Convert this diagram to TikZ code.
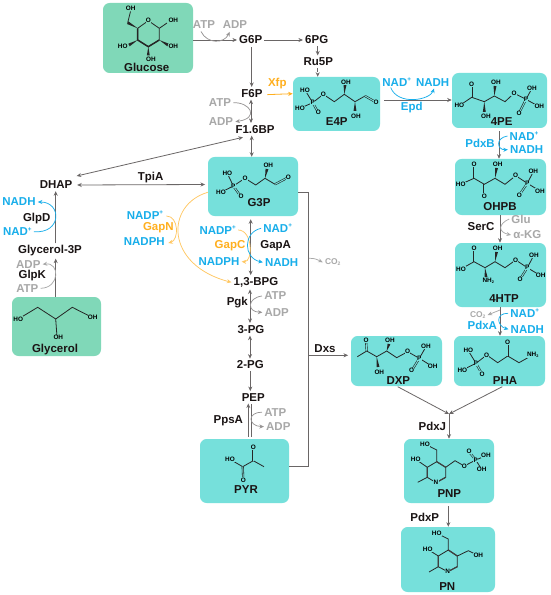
\documentclass[tikz,border=0pt]{standalone}
\usepackage{fontspec}
\setmainfont{Liberation Sans}
\usetikzlibrary{calc,arrows.meta}
\definecolor{tealb}{HTML}{76E0DB}
\definecolor{greenb}{HTML}{80D8B8}
\definecolor{cblue}{HTML}{18AEEA}
\definecolor{corange}{HTML}{FFAF1E}
\definecolor{cgray}{HTML}{A8A8A8}
\definecolor{cline}{HTML}{6A6666}
\definecolor{ctext}{HTML}{1A1414}
\colorlet{bgc}{tealb}
\newcounter{an}
\newcommand\atm[2]{\stepcounter{an}\node[atom] (a\thean) at (#1) {#2};}
\newcommand\wdg[2]{\fill[black!85] (#1) -- ($(#2)!1.1pt!90:(#1)$) -- ($(#2)!1.1pt!-90:(#1)$) -- cycle;}
\newcommand\dbl[2]{\draw[bond,double=bgc,double distance=0.7pt,line width=0.45pt] (#1) -- (#2);}
\newcommand\pl{\raisebox{0.38em}{\scalebox{0.55}{+}}}
\newcommand\cotwo{CO\raisebox{-0.15em}{\scalebox{0.6}{2}}}
\tikzset{
 box/.style 2 args={fill=#1,rounded corners=5pt,minimum width=#2*0.75pt,inner sep=0pt},
 lab/.style={font=\fontsize{8.6}{10}\selectfont\bfseries,text=ctext,inner sep=1.5pt},
 blab/.style={lab,text=cblue},
 olab/.style={lab,text=corange},
 glab/.style={lab,text=cgray},
 atom/.style={font=\fontsize{4.8}{5}\selectfont\bfseries,text=black,inner sep=0.2pt,fill=bgc},
 bond/.style={draw=black!85,line width=0.6pt},
 tip/.style={-{Stealth[length=3.4pt,width=3pt]}},
 btip/.style={{Stealth[length=3.4pt,width=3pt]}-{Stealth[length=3.4pt,width=3pt]}},
 arr/.style={draw=cline,line width=0.6pt,tip},
 barr/.style={draw=cline,line width=0.6pt,btip},
 cur/.style={line width=0.55pt,tip},
}
\begin{document}
\begin{tikzpicture}[x=0.75pt,y=-0.75pt]
\useasboundingbox (0,0) rectangle (550,595);
\fill[white] (0,0) rectangle (550,595);

% boxes
\node[box={greenb}{90},minimum height=52.5pt] (Glucose) at (148,38) {};
\node[box={greenb}{89},minimum height=44.25pt] (Glycerol) at (56.5,326.5) {};
\node[box={tealb}{87},minimum height=40.5pt] (E4P) at (336.5,104) {};
\node[box={tealb}{95},minimum height=41.25pt] (PE4) at (499.5,100.5) {};
\node[box={tealb}{91},minimum height=42pt] (OHPB) at (500.5,187) {};
\node[box={tealb}{91},minimum height=48pt] (HTP) at (500.5,275) {};
\node[box={tealb}{91},minimum height=37.5pt] (PHA) at (499.5,361) {};
\node[box={tealb}{91},minimum height=37.5pt] (DXP) at (396.5,361) {};
\node[box={tealb}{90},minimum height=48pt] (PNP) at (449,471) {};
\node[box={tealb}{94},minimum height=48.75pt] (PN) at (448,559.5) {};
\node[box={tealb}{90},minimum height=44.25pt] (G3P) at (253,186.5) {};
\node[box={tealb}{89},minimum height=48pt] (PYR) at (244.5,471) {};

% metabolite labels
\node[lab] (lGlucose) at (146.7,67.3) {Glucose};
\node[lab] (G6P) at (250.7,40) {G6P};
\node[lab] (PG6) at (316.7,40) {6PG};
\node[lab] (Ru5P) at (318.3,61.7) {Ru5P};
\node[lab] (F6P) at (252,93.3) {F6P};
\node[lab] (FBP) at (255,129.3) {F1.6BP};
\node[lab] (DHAP) at (56,185) {DHAP};
\node[lab] (TpiA) at (150.7,177.3) {TpiA};
\node[lab] (GlpD) at (36.7,218.3) {GlpD};
\node[lab] (Gly3P) at (50,251) {Glycerol-3P};
\node[lab] (GlpK) at (32.3,275.3) {GlpK};
\node[lab] (lGlycerol) at (55,349.3) {Glycerol};
\node[lab] (lE4P) at (336.7,121.7) {E4P};
\node[lab] (l4PE) at (501.7,121.7) {4PE};
\node[lab] (lOHPB) at (500,206.7) {OHPB};
\node[lab] (l4HTP) at (504,298.7) {4HTP};
\node[lab] (lPHA) at (505,380.7) {PHA};
\node[lab] (lDXP) at (398.3,380.7) {DXP};
\node[lab] (lPNP) at (449.3,494) {PNP};
\node[lab] (lPN) at (447.3,586.7) {PN};
\node[lab] (lG3P) at (259,202.3) {G3P};
\node[lab] (lPYR) at (246,489.3) {PYR};
\node[lab] (GapA) at (275.7,246) {GapA};
\node[lab] (BPG) at (256,282.3) {1,3-BPG};
\node[lab] (Pgk) at (237.3,302.3) {Pgk};
\node[lab] (PG3) at (251,329.3) {3-PG};
\node[lab] (PG2) at (250.3,365) {2-PG};
\node[lab] (PEP) at (253.3,397.3) {PEP};
\node[lab] (PpsA) at (228.3,420.7) {PpsA};
\node[lab] (Dxs) at (325,349) {Dxs};
\node[lab] (SerC) at (481,226.7) {SerC};
\node[lab] (PdxJ) at (432.3,426) {PdxJ};
\node[lab] (PdxP) at (424.7,517.7) {PdxP};

% cofactors
\node[glab] (ATP1) at (204,24.3) {ATP};
\node[glab] (ADP1) at (235,24.3) {ADP};
\node[glab] (ATP2) at (220,102.7) {ATP};
\node[glab] (ADP2) at (221,121.7) {ADP};
\node[glab] (ADP3) at (28.3,264.3) {ADP};
\node[glab] (ATP3) at (27.3,288.3) {ATP};
\node[glab] (ATP4) at (275.3,296) {ATP};
\node[glab] (ADP4) at (276.7,312.3) {ADP};
\node[glab] (ATP5) at (275.3,412.3) {ATP};
\node[glab] (ADP5) at (278.3,426.7) {ADP};
\node[glab] (Glu) at (521,219) {Glu};
\node[glab] (KG) at (527.3,235) {α-KG};
\node[glab,font=\fontsize{6.3}{7}\selectfont\bfseries] (CO1) at (332.7,262.3) {\cotwo};
\node[glab,font=\fontsize{6.3}{7}\selectfont\bfseries] (CO2) at (477.7,315) {\cotwo};
\node[olab] (Xfp) at (277.3,84) {Xfp};
\node[olab] (GapN) at (158.3,227.7) {GapN};
\node[olab] (GapC) at (230,246) {GapC};
\node[blab] (NADH1) at (19,202) {NADH};
\node[blab] (NAD1) at (17.3,231.7) {NAD\pl};
\node[blab] (NADP1) at (145,215) {NADP\pl};
\node[blab] (NADPH1) at (144.3,241.7) {NADPH};
\node[blab] (NADP2) at (217.7,230) {NADP\pl};
\node[blab] (NADPH2) at (219,261.7) {NADPH};
\node[blab] (NAD2) at (277.7,228.3) {NAD\pl};
\node[blab] (NADH2) at (281.7,262.3) {NADH};
\node[blab] (NAD3) at (396.7,82.3) {NAD\pl};
\node[blab] (NADH3) at (432.7,82.3) {NADH};
\node[blab] (Epd) at (411.7,107.7) {Epd};
\node[blab] (PdxB) at (480,143.3) {PdxB};
\node[blab] (NAD4) at (524,136) {NAD\pl};
\node[blab] (NADH4) at (526.7,149.7) {NADH};
\node[blab] (PdxA) at (482.3,325.3) {PdxA};
\node[blab] (NAD5) at (524.7,313.3) {NAD\pl};
\node[blab] (NADH5) at (527.3,329.3) {NADH};

% main connectors
\draw[arr] (Glucose.east |- G6P) -- (G6P.west);
\draw[arr] (G6P.east) -- (PG6.west);
\draw[arr] (PG6.south -| 317.7,0) -- (Ru5P.north -| 317.7,0);
\draw[arr,densely dashed] (Ru5P.south -| 317.7,0) -- (E4P.north -| 317.7,0);
\draw[arr] (251.7,0 |- G6P.south) ++(0,1) -- (251.7,0 |- F6P.north);
\draw[arr,draw=corange] ([xshift=2pt,yshift=-1pt]F6P.east) -- (E4P.west |- 0,93.7);
\draw[barr] (251,0 |- F6P.south) -- (251,0 |- FBP.north);
\draw[barr] (251.7,0 |- FBP.south) -- (251.7,0 |- G3P.north);
\draw[barr] ([shift={(20.7,-9)}]DHAP.center) -- ([shift={(-12,8)}]FBP.center);
\draw[barr] ([xshift=2pt]DHAP.east) -- ([xshift=-2pt]G3P.west |- 0,184.5);
\draw[arr] (55.7,0 |- Gly3P.north) -- (55.7,0 |- DHAP.south);
\draw[arr] (55.7,0 |- Glycerol.north) -- (55.7,0 |- Gly3P.south);
\draw[barr] (250.7,0 |- G3P.south) ++(0,3) -- (250.7,0 |- BPG.north);
\draw[barr] (250,0 |- BPG.south) -- (250,0 |- PG3.north);
\draw[barr] (250,0 |- PG3.south) -- (250,0 |- PG2.north);
\draw[arr] (250.3,0 |- PG2.south) -- (250.3,0 |- PEP.north);
\draw[arr] (248.3,0 |- PYR.north) ++(0,-2) -- (248.3,0 |- PEP.south);
\draw[draw=cline,line width=0.6pt] (251.7,0 |- PYR.north) ++(0,-2) -- (251.7,0 |- PEP.south);
\draw[draw=cline,line width=0.7pt] (G3P.east |- 0,192.3) -- (308.5,192.3) -- (308.5,466) -- (PYR.east |- 0,466);
\coordinate (dxsbr) at (308.5,355.3);
\draw[arr] (dxsbr) -- ([xshift=-2pt]DXP.west |- dxsbr);
\draw[arr] (499,0 |- PE4.south) ++(0,3) -- (499,0 |- OHPB.north);
\draw[arr] (500,0 |- OHPB.south) -- (500,0 |- HTP.north);
\draw[arr] (500,0 |- HTP.south) -- (500,0 |- PHA.north);
\draw[arr] (384.3,100) -- (PE4.west |- 0,100);
\coordinate (junc) at (449,414);
\draw[arr] (397.7,386.7) -- (junc);
\draw[arr] (502.3,386.7) -- (junc);
\draw[arr] (junc) -- (449,0 |- PNP.north);
\draw[arr] (448.3,0 |- PNP.south) ++(0,3) -- (448.3,0 |- PN.north);

% cofactor curves
\draw[cur,draw=cline!70] (ATP1.south) ++(-3,1) .. controls (207,44) and (224,44) .. ([xshift=-4pt,yshift=-1pt]ADP1.south);
\draw[cur,draw=cline!70] (ATP2.east) .. controls (250,102) and (260,118) .. (ADP2.east);
\draw[cur,draw=cgray] (ATP3.east) .. controls (60,288) and (60,262) .. (ADP3.east);
\draw[cur,draw=cblue] (NAD1.east) .. controls (62,234) and (62,202) .. (NADH1.east);
\draw[cur,draw=corange!70] (NADP1.east) ++(1,1) .. controls (179,216) and (179,240) .. ([xshift=1pt,yshift=-1pt]NADPH1.east);
\draw[cur,draw=corange!70] (G3P.west |- 0,192.3) .. controls (165,205) and (165,265) .. (BPG.west);
\draw[cur,draw=corange!70] (NADP2.east) .. controls (253,230) and (253,262) .. (NADPH2.east);
\draw[cur,draw=cblue] (NAD2.west) .. controls (243,232) and (243,258) .. (NADH2.west);
\draw[cur,draw=cline!70] (ATP4.west) .. controls (247,298) and (247,312) .. (ADP4.west);
\draw[cur,draw=cline!70] (ATP5.west) .. controls (247,412) and (248,426) .. (ADP5.west);
\draw[cur,draw=cblue] (NAD3.south) ++(-6,-1) .. controls (398,106) and (430,100) .. ([xshift=1pt]NADH3.south);
\draw[cur,draw=cblue] (NAD4.west) .. controls (495,138) and (497,150) .. (NADH4.west);
\draw[cur,draw=cgray] (Glu.west) .. controls (498,224) and (498,232) .. (KG.west);
\draw[cur,draw=cblue] (NAD5.west) .. controls (495,313) and (497,326) .. (NADH5.west);
\draw[cur,draw=cgray] (500,310) -- (CO2.east);
\draw[cur,draw=cgray] (309,258.3) .. controls (315,258) and (318,260) .. (CO1.west);

% Glucose molecule
\colorlet{bgc}{greenb}
\draw[bond] (148.3,20.7) -- (137.7,28.3) -- (137.7,40) -- (148.3,46.7) -- (159.3,40) -- (159.3,28.3) -- cycle;
\draw[line width=1.1pt,black!85] (137.7,28.3) -- (137.7,40) -- (148.3,46.7) -- (159.3,40);
\wdg{137.7,28.3}{127.7,22.7}
\draw[bond] (127.7,22.7) -- (130.5,11.5);
\draw[bond] (159.3,28.3) -- (167,23);
\wdg{137.7,40}{129,45}
\wdg{148.3,46.7}{148.3,55.5}
\wdg{159.3,40}{168,45}
\atm{148.3,20.7}{O}\atm{130.7,8.7}{OH}\atm{173.3,20.7}{OH}\atm{122.7,46.7}{HO}\atm{151,59.3}{OH}\atm{173.3,46.7}{OH}

% Glycerol
\draw[bond] (18.3,319) -- (37.7,307.3) -- (55.7,319) -- (72.3,307.3) -- (92.7,317.7);
\draw[bond] (55.7,319) -- (57,337);
\atm{18.3,319}{HO}\atm{92.7,317.7}{OH}\atm{58.3,337.7}{OH}

\colorlet{bgc}{tealb}
% E4P
\draw[bond] (305,90) -- (312.7,102.7) -- (300,108.3);
\dbl{312.7,102.7}{318.3,112.7}
\draw[bond] (312.7,102.7) -- (323.3,94.3) -- (334.3,101.7) -- (344.3,94.3) -- (355,101.7) -- (365,96);
\dbl{365,96}{376,102.3}
\wdg{344.3,94.3}{345,85}
\wdg{355,101.7}{355,111}
\atm{305,90}{HO}\atm{300,108.3}{HO}\atm{312.7,102.7}{P}\atm{318.3,112.7}{O}\atm{323.3,94.3}{O}\atm{346,82.3}{OH}\atm{376,102.3}{O}\atm{356,116}{OH}

% 4PE
\dbl{471.7,84}{471.7,97.3}
\draw[bond] (459.3,105.7) -- (471.7,97.3) -- (484.3,101.7) -- (494.3,96) -- (505,101.7) -- (514,93.3) -- (526,99.3) -- (532,88.3);
\draw[bond] (526,99.3) -- (539.3,106.7);
\dbl{526,99.3}{519,113.3}
\wdg{484.3,101.7}{484.3,112}
\wdg{494.3,96}{495,86}
\atm{471.7,84}{O}\atm{459.3,105.7}{HO}\atm{486,116}{OH}\atm{496,82.7}{OH}\atm{514,93.3}{O}\atm{526,99.3}{P}\atm{532,88.3}{OH}\atm{539.3,106.7}{OH}\atm{519,113.3}{O}

% OHPB
\dbl{474,164.3}{474,178.3}
\dbl{484.3,184.3}{484.3,196}
\draw[bond] (460.7,184.3) -- (474,178.3) -- (484.3,184.3) -- (495,178.3) -- (505,184.3) -- (515.7,175.7) -- (527.3,183.3) -- (533.3,171.7);
\draw[bond] (527.3,183.3) -- (540,191);
\dbl{527.3,183.3}{519.3,195}
\wdg{495,178.3}{496.5,168}
\atm{474,164.3}{O}\atm{460.7,184.3}{HO}\atm{484.3,196}{O}\atm{497.7,164.3}{OH}\atm{515.7,175.7}{O}\atm{527.3,183.3}{P}\atm{533.3,171.7}{OH}\atm{540,191}{OH}\atm{519.3,195}{O}

% 4HTP
\dbl{474,248.3}{474,261.7}
\draw[bond] (461,269) -- (474,261.7) -- (485,267.7) -- (495,261.7) -- (505,267.7) -- (515.7,260) -- (527.3,267.7) -- (534,255);
\draw[bond] (527.3,267.7) -- (540.7,275.7);
\dbl{527.3,267.7}{520,279.3}
\wdg{485,267.7}{486,277}
\wdg{495,261.7}{496.5,252}
\atm{474,248.3}{O}\atm{461,269}{HO}\atm{488.3,281}{NH\raisebox{-0.2em}{\scalebox{0.6}{2}}}\atm{497.7,248.3}{OH}\atm{515.7,260}{O}\atm{527.3,267.7}{P}\atm{534,255}{OH}\atm{540.7,275.7}{OH}\atm{520,279.3}{O}

% PHA
\draw[bond] (468.3,350.7) -- (476,363.3) -- (462.3,370);
\dbl{476,363.3}{482,374}
\draw[bond] (476,363.3) -- (486.7,355) -- (497.7,362.7) -- (507.7,356) -- (519,362.7) -- (532.7,355);
\dbl{507.7,356}{507.7,342.7}
\atm{468.3,350.7}{HO}\atm{462.3,370}{HO}\atm{476,363.3}{P}\atm{482,374}{O}\atm{486.7,355}{O}\atm{507.7,342.7}{O}\atm{532.7,355}{NH\raisebox{-0.2em}{\scalebox{0.6}{2}}}

% DXP
\dbl{366.7,351}{366,340}
\draw[bond] (357.3,356.7) -- (366.7,351) -- (376.7,356.7) -- (386.7,351) -- (396.7,357.7) -- (407.7,351.7) -- (419.3,358.3) -- (426,346.7);
\draw[bond] (419.3,358.3) -- (432.7,366.7);
\dbl{419.3,358.3}{411.7,370.7}
\wdg{376.7,356.7}{378,367}
\wdg{386.7,351}{389,344}
\atm{366,340}{O}\atm{379.3,372.3}{OH}\atm{390,340}{OH}\atm{407.7,351.7}{O}\atm{419.3,358.3}{P}\atm{426,346.7}{OH}\atm{432.7,366.7}{OH}\atm{411.7,370.7}{O}

% PNP
\draw[bond] (436,482.7) -- (427.3,477.3) -- (427.3,467.3) -- (436.7,461.7) -- (445.7,467.3) -- (445.7,477.3) -- cycle;
\draw[line width=0.9pt,black!75] (427.3,477.3) -- (427.3,467.3) (436.7,461.7) -- (445.7,467.3) (445.7,477.3) -- (436,482.7);
\draw[bond] (427.3,477.3) -- (417.7,482.3) (427.3,467.3) -- (415.7,459.3) (436.7,461.7) -- (436.7,450) -- (425,444);
\draw[bond] (445.7,467.3) -- (455,460.7) -- (464.3,466) -- (475.7,460) -- (486,455.7) (475.7,460) -- (481.7,469.3);
\dbl{475.7,460}{469,451.7}
\atm{436,482.7}{N}\atm{415.7,459.3}{HO}\atm{425,444}{HO}\atm{464.3,466}{O}\atm{475.7,460}{P}\atm{469,451.7}{O}\atm{486,455.7}{OH}\atm{481.7,469.3}{OH}

% PN
\draw[bond] (447.7,571.7) -- (438.3,566.7) -- (438.3,556) -- (448.3,550) -- (457.3,556) -- (457.3,566.7) -- cycle;
\draw[line width=0.9pt,black!75] (438.3,566.7) -- (438.3,556) (448.3,550) -- (457.3,556) (457.3,566.7) -- (447.7,571.7);
\draw[bond] (438.3,566.7) -- (429,572) (438.3,556) -- (427.7,549.3) (448.3,550) -- (448.3,539) -- (436.7,533.3);
\draw[bond] (457.3,556) -- (468.3,550.7) -- (478.3,555.7);
\atm{447.7,571.7}{N}\atm{427.7,549.3}{HO}\atm{436.7,533.3}{HO}\atm{478.3,555.7}{OH}

% PYR
\draw[bond] (230,459.3) -- (242.7,466.7) -- (253.3,460.7) -- (264,466.7);
\dbl{242.7,466.7}{243.3,480}
\dbl{253.3,460.7}{253.3,447.3}
\atm{230,459.3}{HO}\atm{243.3,480}{O}\atm{253.3,447.3}{O}

% G3P
\draw[bond] (227.3,173.3) -- (233.3,186) -- (221,192.3);
\dbl{233.3,186}{241,196.7}
\draw[bond] (233.3,186) -- (245,178.3) -- (255.7,185) -- (265,178.3) -- (275,184.3);
\dbl{275,184.3}{288.3,177.3}
\wdg{265,178.3}{267,169}
\atm{227.3,173.3}{HO}\atm{221,192.3}{HO}\atm{233.3,186}{P}\atm{241,196.7}{O}\atm{245,178.3}{O}\atm{268.3,165.7}{OH}\atm{288.3,177.3}{O}
\end{tikzpicture}
\end{document}
